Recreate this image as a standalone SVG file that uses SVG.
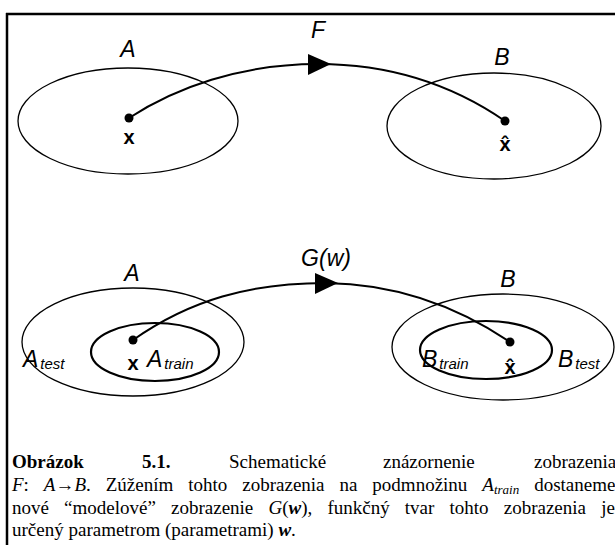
<svg xmlns="http://www.w3.org/2000/svg" width="615" height="545" viewBox="0 0 615 545">
  <style>
    .set { fill: none; stroke: #000; stroke-width: 1.3; }
    .sub { fill: none; stroke: #000; stroke-width: 2.2; }
    .map { fill: none; stroke: #000; stroke-width: 2; }
    .lbl { font-family: "Liberation Sans", Arial, sans-serif; font-style: italic; font-size: 23px; fill: #000; }
    .idx { font-family: "Liberation Sans", Arial, sans-serif; font-style: italic; font-size: 15px; fill: #000; }
    .pt { font-family: "Liberation Sans", "DejaVu Sans", Arial, sans-serif; font-weight: bold; font-size: 20px; fill: #000; text-anchor: middle; }
    .cap { font-family: "Liberation Serif", "Times New Roman", serif; font-size: 19px; fill: #000; }
    .mid { text-anchor: middle; }
  </style>

  <!-- frame -->
  <path d="M6,14 H615 M7,13 V545" fill="none" stroke="#000" stroke-width="2.5"/>

  <!-- upper panel: F : A -> B -->
  <g id="setA1">
    <ellipse class="set" cx="128" cy="121" rx="110" ry="53"/>
    <text class="lbl mid" x="128" y="57">A</text>
  </g>
  <g id="setB1">
    <ellipse class="set" cx="494" cy="126" rx="107" ry="53"/>
    <text class="lbl mid" x="502" y="65">B</text>
  </g>
  <g id="pointX1">
    <circle cx="129" cy="118" r="4.5"/>
    <text class="pt" x="129" y="144">x</text>
  </g>
  <g id="pointXhat1">
    <circle cx="505" cy="121" r="4.5"/>
    <text class="pt" x="505" y="151">x̂</text>
  </g>

  <!-- lower panel: G(w) restricted to the training subsets -->
  <g id="setA2">
    <ellipse class="set" cx="133" cy="342" rx="111" ry="54"/>
    <text class="lbl mid" x="132" y="281">A</text>
    <text class="lbl" x="23" y="367">A<tspan class="idx" dx="2" dy="2">test</tspan></text>
  </g>
  <g id="setAtrain">
    <ellipse class="sub" cx="155" cy="352" rx="64" ry="29"/>
    <text class="lbl" x="147" y="367">A<tspan class="idx" dx="2" dy="2">train</tspan></text>
  </g>
  <g id="setB2">
    <ellipse class="set" cx="503" cy="347" rx="111" ry="53"/>
    <text class="lbl mid" x="508" y="287">B</text>
    <text class="lbl" x="558" y="367">B<tspan class="idx" dx="2" dy="2">test</tspan></text>
  </g>
  <g id="setBtrain">
    <ellipse class="sub" cx="486" cy="350" rx="66" ry="29"/>
    <text class="lbl" x="422" y="367">B<tspan class="idx" dx="2" dy="2">train</tspan></text>
  </g>
  <g id="pointX2">
    <circle cx="133" cy="340" r="4.5"/>
    <text class="pt" x="133" y="370">x</text>
  </g>
  <g id="pointXhat2">
    <circle cx="510" cy="342" r="4.5"/>
    <text class="pt" x="510" y="374">x̂</text>
  </g>

  <!-- mappings -->
  <g id="connectors">
    <path class="map" d="M129,118 C175,88 240,64 318,64 C400,64 460,90 505,121"/>
    <polygon points="308,54 331,64 308,75"/>
    <text class="lbl mid" x="318" y="38">F</text>

    <path class="map" d="M133,340 C190,300 250,283 326,283 C410,284 470,315 510,342"/>
    <polygon points="315,273 338,283 315,294"/>
    <text class="lbl mid" x="326" y="266">G(w)</text>
  </g>

  <!-- caption -->
  <g id="caption" class="cap">
    <text y="468"><tspan x="12" font-weight="bold">Obrázok</tspan><tspan x="142" font-weight="bold">5.1.</tspan><tspan x="229">Schematické</tspan><tspan x="383">znázornenie</tspan><tspan x="534">zobrazenia</tspan></text>
    <text x="12" y="491" word-spacing="10.2"><tspan font-style="italic">F</tspan>: <tspan font-style="italic">A</tspan>→<tspan font-style="italic">B</tspan>. Zúžením tohto zobrazenia na podmnožinu <tspan font-style="italic">A<tspan font-size="13" dy="3">train</tspan></tspan><tspan dy="-3"> dostaneme</tspan></text>
    <text x="12" y="514" word-spacing="10.4">nové “modelové” zobrazenie <tspan font-style="italic">G</tspan>(<tspan font-style="italic" font-weight="bold">w</tspan>), funkčný tvar tohto zobrazenia je</text>
    <text x="12" y="536">určený parametrom (parametrami) <tspan font-style="italic" font-weight="bold">w</tspan>.</text>
  </g>
</svg>
